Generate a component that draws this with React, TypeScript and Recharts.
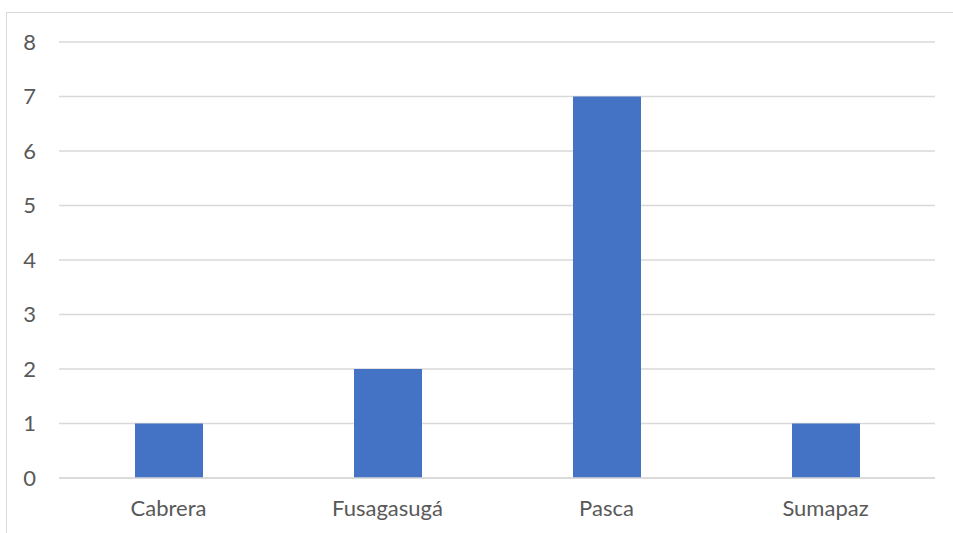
import React from 'react';
import { BarChart, Bar, XAxis, YAxis, CartesianGrid } from 'recharts';

const categories = ['Cabrera', 'Fusagasugá', 'Pasca', 'Sumapaz'];
const values = [1, 2, 7, 1];
const yTicks = [0, 1, 2, 3, 4, 5, 6, 7, 8];

const chartData = categories.map((name, i) => ({ name, value: values[i] }));

const App: React.FC = () => {
  return (
    <div style={{ position: 'fixed', left: 0, top: 0, width: 953, height: 533, overflow: 'hidden', background: '#fff' }}>
      <div
        style={{
          position: 'absolute',
          left: 6,
          top: 12,
          width: 1000,
          height: 600,
          borderTop: '1px solid #d9d9d9',
          borderLeft: '1px solid #d9d9d9',
        }}
      />
      <div style={{ position: 'absolute', left: 0, top: 0 }}>
        <BarChart
          width={953}
          height={533}
          data={chartData}
          margin={{ top: 42, right: 18, left: 0, bottom: 0 }}
          barSize={68}
        >
          <CartesianGrid vertical={false} stroke="#d9d9d9" strokeWidth={1.3} />
          <XAxis
            dataKey="name"
            axisLine={{ stroke: '#d9d9d9', strokeWidth: 1.3 }}
            tickLine={false}
            tickSize={0}
            tickMargin={22}
            height={55}
            tick={{ fill: '#595959', fontSize: 22, fontFamily: 'Lato' }}
          />
          <YAxis
            width={59}
            domain={[0, 8]}
            ticks={yTicks}
            axisLine={false}
            tickLine={false}
            tickSize={0}
            tickMargin={23}
            tick={{ fill: '#595959', fontSize: 22, fontFamily: 'Lato' }}
          />
          <Bar dataKey="value" fill="#4472c4" isAnimationActive={false} />
        </BarChart>
      </div>
    </div>
  );
};

export default App;
